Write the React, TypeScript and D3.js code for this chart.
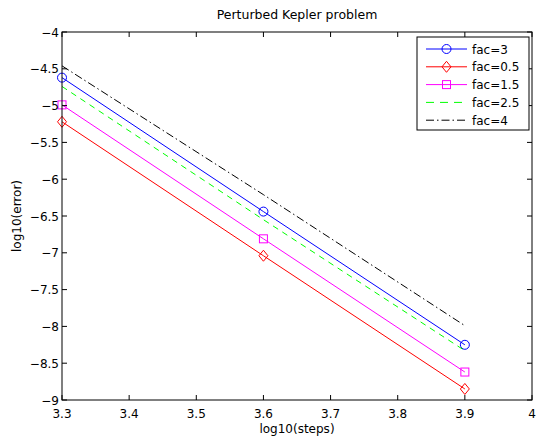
import * as React from 'react';
import * as d3 from 'd3';

const WIDTH = 537;
const HEIGHT = 438;
const M = { top: 32, right: 5, bottom: 38, left: 62 };

const steps = [3.3, 3.6, 3.9];
const fac3 = [-4.62, -6.44, -8.25];
const fac05 = [-5.22, -7.04, -8.85];
const fac15 = [-4.99, -6.81, -8.62];
const fac25 = [-4.74, -6.55, -8.33];
const fac4 = [-4.46, -6.21, -7.99];

const xTicks = [3.3, 3.4, 3.5, 3.6, 3.7, 3.8, 3.9, 4];
const yTicks = [-4, -4.5, -5, -5.5, -6, -6.5, -7, -7.5, -8, -8.5, -9];

const series = [
  { name: 'fac=3', values: fac3, color: '#0000ff', dash: null, legendDash: null, marker: 'circle' },
  { name: 'fac=0.5', values: fac05, color: '#ff0000', dash: null, legendDash: null, marker: 'diamond' },
  { name: 'fac=1.5', values: fac15, color: '#ff00ff', dash: null, legendDash: null, marker: 'square' },
  { name: 'fac=2.5', values: fac25, color: '#00ff00', dash: '6,5', legendDash: '8,6', marker: null },
  { name: 'fac=4', values: fac4, color: '#000000', dash: '8,3,1.5,3', legendDash: '8,3,1.5,3', marker: null },
];

const FONT = '"DejaVu Sans", Verdana, sans-serif';
const FS = 12;

function Marker({ type, x, y, color }: { type: string | null; x: number; y: number; color: string }) {
  if (type === 'circle') return <circle cx={x} cy={y} r={4.5} fill="none" stroke={color} strokeWidth={1} />;
  if (type === 'square') return <rect x={x - 4} y={y - 4} width={8} height={8} fill="none" stroke={color} strokeWidth={1} />;
  if (type === 'diamond')
    return <path d={`M${x},${y - 5.5}L${x + 4.5},${y}L${x},${y + 5.5}L${x - 4.5},${y}Z`} fill="none" stroke={color} strokeWidth={1} />;
  return null;
}

export default function App() {
  const x = d3.scaleLinear().domain([3.3, 4]).range([M.left, WIDTH - M.right]);
  const y = d3.scaleLinear().domain([-9, -4]).range([HEIGHT - M.bottom, M.top]);
  const line = d3
    .line<number>()
    .x((_, i) => x(steps[i]))
    .y(d => y(d));

  const x0 = M.left;
  const x1 = WIDTH - M.right;
  const y0 = M.top;
  const y1 = HEIGHT - M.bottom;
  const tick = 5;

  const lg = { x: 417, y: 37, w: 112, h: 93 };

  return (
    <svg width={WIDTH} height={HEIGHT} style={{ position: 'absolute', left: 0, top: 0 }} fontFamily={FONT}>
      <rect width={WIDTH} height={HEIGHT} fill="#fff" />
      <text x={(x0 + x1) / 2} y={19} textAnchor="middle" fontSize={12.5}>
        Perturbed Kepler problem
      </text>

      {series.map(s => (
        <g key={s.name}>
          <path d={line(s.values) || ''} fill="none" stroke={s.color} strokeWidth={1} strokeDasharray={s.dash || undefined} />
          {s.values.map((v, i) => (
            <Marker key={i} type={s.marker} x={x(steps[i])} y={y(v)} color={s.color} />
          ))}
        </g>
      ))}

      <rect x={x0} y={y0} width={x1 - x0} height={y1 - y0} fill="none" stroke="#000" strokeWidth={1} />
      {xTicks.map(t => (
        <g key={t}>
          <line x1={x(t)} x2={x(t)} y1={y1} y2={y1 - tick} stroke="#000" />
          <line x1={x(t)} x2={x(t)} y1={y0} y2={y0 + tick} stroke="#000" />
          <text x={x(t)} y={y1 + 18} textAnchor="middle" fontSize={FS}>
            {String(t)}
          </text>
        </g>
      ))}
      {yTicks.map(t => (
        <g key={t}>
          <line x1={x0} x2={x0 + tick} y1={y(t)} y2={y(t)} stroke="#000" />
          <line x1={x1} x2={x1 - tick} y1={y(t)} y2={y(t)} stroke="#000" />
          <text x={x0 - 3} y={y(t) + 4.5} textAnchor="end" fontSize={FS}>
            {String(t).replace('-', '\u2212')}
          </text>
        </g>
      ))}

      <text x={(x0 + x1) / 2} y={HEIGHT - 5} textAnchor="middle" fontSize={FS}>
        log10(steps)
      </text>
      <text transform={`translate(21,${(y0 + y1) / 2}) rotate(-90)`} textAnchor="middle" fontSize={FS}>
        log10(error)
      </text>

      <rect x={lg.x} y={lg.y} width={lg.w} height={lg.h} fill="#fff" stroke="#000" strokeWidth={1} />
      {series.map((s, i) => {
        const ly = lg.y + 12 + i * 17.8;
        return (
          <g key={s.name}>
            <line x1={lg.x + 9} x2={lg.x + 50} y1={ly} y2={ly} stroke={s.color} strokeDasharray={s.legendDash || undefined} />
            <Marker type={s.marker} x={lg.x + 29.5} y={ly} color={s.color} />
            <text x={lg.x + 55} y={ly + 4.5} fontSize={FS}>
              {s.name}
            </text>
          </g>
        );
      })}
    </svg>
  );
}
